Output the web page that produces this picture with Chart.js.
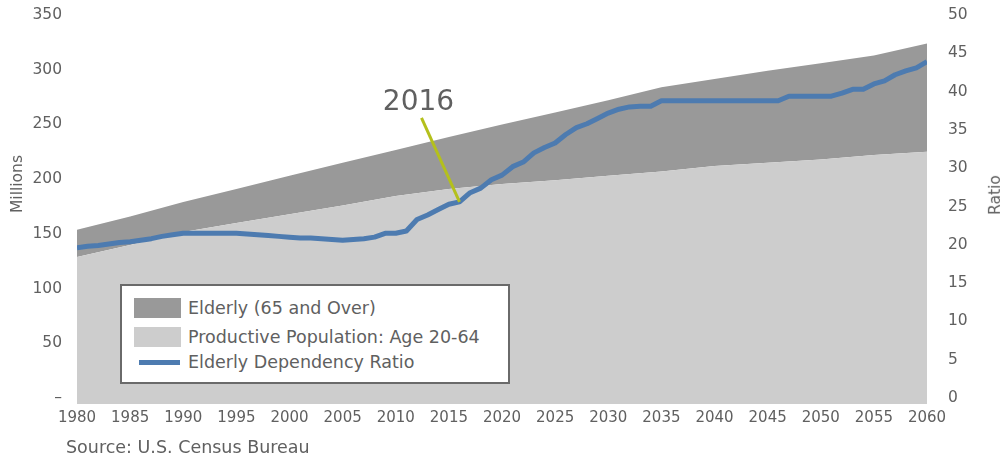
<!DOCTYPE html>
<html><head><meta charset="utf-8">
<script src="https://cdn.jsdelivr.net/npm/chart.js@4/dist/chart.umd.min.js"></script>
<style>
html,body{margin:0;padding:0;background:#fff;}
#wrap{position:relative;width:1002px;height:456px;overflow:hidden;font-family:"DejaVu Sans",sans-serif;color:#606060;}
canvas{position:absolute;left:0;top:0;}
#legend{position:absolute;left:120px;top:284px;width:386px;height:96px;border:2px solid #6a6a6a;background:#fff;font-size:17.5px;}
.row{position:absolute;left:0;height:22px;width:380px;}
.sw{position:absolute;left:12px;width:47px;}
.lt{position:absolute;left:66px;top:0;line-height:22px;white-space:nowrap;}
#source{position:absolute;left:66px;top:436px;font-size:17.5px;line-height:22px;white-space:nowrap;}
.ax{position:absolute;font-size:15.5px;white-space:nowrap;transform-origin:center center;}
</style>
</head><body>
<div id="wrap">
<canvas id="c" width="1002" height="456"></canvas>
<div id="legend"></div>
<div id="source">Source: U.S. Census Bureau</div>
<div class="ax" id="ytitle">Millions</div>
<div class="ax" id="y2title">Ratio</div>
</div>
<script>
// ---- data ----
const areaYears = [1980,1985,1990,1995,2000,2005,2010,2015,2020,2025,2030,2035,2040,2045,2050,2055,2060];
const productive = [128.8,139.8,151.7,160,168,176,184.6,191,195.5,199,203,207,212,215,218,222,225];
const elderly = [25,26,27.5,31,35,39,42,47.5,54.5,62,69,77,79.5,84,88,91,99];
const ratioYears = [];
for (let y = 1980; y <= 2060; y++) ratioYears.push(y);
const ratio = [
 19.6,19.8,19.9,20.1,20.3,20.4,20.6,20.8,21.1,21.3,
 21.5,21.5,21.5,21.5,21.5,21.5,21.4,21.3,21.2,21.1,
 21.0,20.9,20.9,20.8,20.7,20.6,20.7,20.8,21.0,21.5,
 21.5,21.8,23.3,23.9,24.6,25.3,25.6,26.8,27.4,28.5,
 29.1,30.2,30.8,32.0,32.7,33.3,34.4,35.3,35.8,36.5,
 37.2,37.7,38.0,38.1,38.1,38.8,38.8,38.8,38.8,38.8,
 38.8,38.8,38.8,38.8,38.8,38.8,38.8,39.4,39.4,39.4,
 39.4,39.4,39.8,40.3,40.3,41.0,41.4,42.2,42.7,43.1,
 43.9];
const leftTicks = [0,50,100,150,200,250,300,350];
const rightTicks = [0,5,10,15,20,25,30,35,40,45,50];
const xTicks = [1980,1985,1990,1995,2000,2005,2010,2015,2020,2025,2030,2035,2040,2045,2050,2055,2060];
const labels = {
  elderly: 'Elderly (65 and Over)',
  productive: 'Productive Population: Age 20-64',
  ratio: 'Elderly Dependency Ratio'
};
const annotationYear = 2016;

// ---- styles ----
const DARK = '#999999', LIGHT = '#cdcdcd', BLUE = '#4d7bb0', TXT = '#606060';
const FONT = '"DejaVu Sans", sans-serif';

const pts = (xs, ys) => xs.map((x, i) => ({x, y: ys[i]}));

const annot = {
  id: 'annot',
  afterDatasetsDraw(chart) {
    const meta = chart.getDatasetMeta(0);
    const idx = ratioYears.indexOf(annotationYear);
    const p = meta.data[idx];
    const ctx = chart.ctx;
    ctx.save();
    ctx.strokeStyle = '#b4c01c';
    ctx.lineWidth = 3;
    ctx.beginPath();
    ctx.moveTo(p.x - 38, p.y - 84);
    ctx.lineTo(p.x, p.y);
    ctx.stroke();
    ctx.fillStyle = TXT;
    ctx.font = '28px ' + FONT;
    ctx.textAlign = 'center';
    ctx.textBaseline = 'middle';
    ctx.fillText(String(annotationYear), p.x - 41, p.y - 99);
    ctx.restore();
  }
};

const chart = new Chart(document.getElementById('c'), {
  type: 'line',
  data: {
    datasets: [
      {label: labels.ratio, data: pts(ratioYears, ratio), yAxisID: 'y2', borderColor: BLUE, borderWidth: 5,
       pointRadius: 0, fill: false, tension: 0, borderJoinStyle: 'round', borderCapStyle: 'butt'},
      {label: labels.productive, data: pts(areaYears, productive), yAxisID: 'y', backgroundColor: LIGHT,
       borderWidth: 0, borderColor: 'rgba(0,0,0,0)', pointRadius: 0, fill: 'start', tension: 0},
      {label: labels.elderly, data: pts(areaYears, elderly), yAxisID: 'y', backgroundColor: DARK,
       borderWidth: 0, borderColor: 'rgba(0,0,0,0)', pointRadius: 0, fill: '-1', tension: 0}
    ]
  },
  options: {
    responsive: false,
    animation: false,
    events: [],
    layout: {padding: {top: 15, left: 0, right: 0, bottom: 0}},
    plugins: {legend: {display: false}, tooltip: {enabled: false}},
    scales: {
      x: {
        type: 'linear', min: 1980, max: 2060,
        grid: {display: false, drawTicks: false}, border: {display: false},
        afterBuildTicks: s => { s.ticks = xTicks.map(v => ({value: v})); },
        afterFit: s => { s.height = 52; },
        ticks: {padding: 5, color: TXT, font: {family: FONT, size: 15}, maxRotation: 0, autoSkip: false,
                callback: v => String(v)}
      },
      y: {
        position: 'left', stacked: true, min: -350 * 6 / 383, max: 350,
        grid: {display: false, drawTicks: true, tickLength: 15}, border: {display: false},
        afterBuildTicks: s => { s.ticks = leftTicks.map(v => ({value: v})); },
        afterFit: s => { s.width = 77; },
        ticks: {padding: 0, color: TXT, font: {family: FONT, size: 15.5},
                callback: v => v === 0 ? '–' : String(v)}
      },
      y2: {
        position: 'right', stacked: false, min: -50 * 6 / 383, max: 50,
        grid: {display: false, drawTicks: true, tickLength: 21}, border: {display: false},
        afterBuildTicks: s => { s.ticks = rightTicks.map(v => ({value: v})); },
        afterFit: s => { s.width = 75; },
        ticks: {padding: 0, color: TXT, font: {family: FONT, size: 15.5}, callback: v => String(v)}
      }
    }
  },
  plugins: [annot]
});

// ---- HTML legend built from datasets ----
(function () {
  const lg = document.getElementById('legend');
  const order = [2, 1, 0];
  const tops = [11, 40, 65];
  order.forEach((di, i) => {
    const ds = chart.data.datasets[di];
    const row = document.createElement('div');
    row.className = 'row';
    row.style.top = tops[i] + 'px';
    const sw = document.createElement('div');
    sw.className = 'sw';
    if (ds.fill === false) {
      sw.style.left = '17px'; sw.style.width = '41px';
      sw.style.top = '9px'; sw.style.height = '5px'; sw.style.background = ds.borderColor;
    } else {
      sw.style.top = '1px'; sw.style.height = '20px'; sw.style.background = ds.backgroundColor;
    }
    const t = document.createElement('div');
    t.className = 'lt';
    t.textContent = ds.label;
    row.appendChild(sw); row.appendChild(t);
    lg.appendChild(row);
  });
  const yt = document.getElementById('ytitle');
  yt.style.left = (17 - yt.offsetWidth / 2) + 'px';
  yt.style.top = (184 - yt.offsetHeight / 2) + 'px';
  yt.style.transform = 'rotate(-90deg)';
  const y2t = document.getElementById('y2title');
  y2t.style.left = (995 - y2t.offsetWidth / 2) + 'px';
  y2t.style.top = (195 - y2t.offsetHeight / 2) + 'px';
  y2t.style.transform = 'rotate(-90deg)';
})();
</script>
</body></html>
